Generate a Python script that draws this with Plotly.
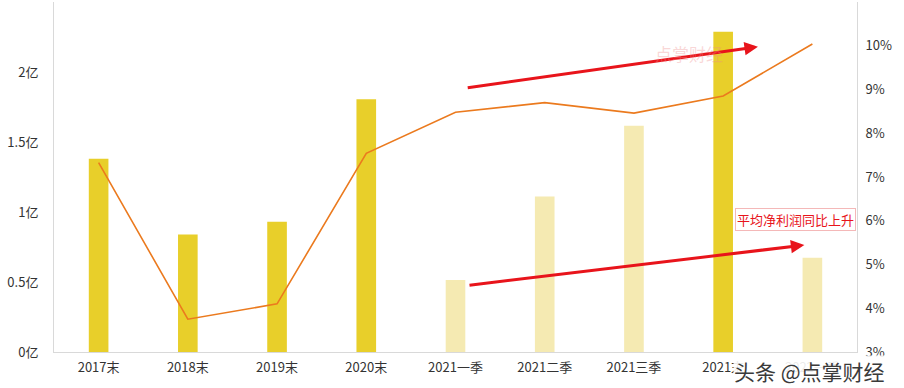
import plotly.graph_objects as go

categories = ["2017末", "2018末", "2019末", "2020末", "2021一季", "2021二季", "2021三季", "2021末", "2022一季"]
profit_yi = [1.38, 0.84, 0.93, 1.805, 0.514, 1.11, 1.616, 2.288, 0.674]
margin_pct = [7.33, 3.75, 4.10, 7.54, 8.48, 8.70, 8.46, 8.85, 10.04]
bar_is_full = [True, True, True, True, False, False, False, True, False]

left_ticks = [0, 0.5, 1, 1.5, 2]
left_ticktext = ["0亿", "0.5亿", "1亿", "1.5亿", "2亿"]
right_ticks = [3, 4, 5, 6, 7, 8, 9, 10]
right_ticktext = ["3%", "4%", "5%", "6%", "7%", "8%", "9%", "10%"]

DARK = "#E8CF2A"
LIGHT = "#F5EAB2"
colors = [DARK if f else LIGHT for f in bar_is_full]

FONT = "Noto Sans CJK SC"

fig = go.Figure()
fig.add_trace(go.Bar(x=categories, y=profit_yi, marker=dict(color=colors, line=dict(width=0)),
                     width=0.22, yaxis="y", showlegend=False))
fig.add_trace(go.Scatter(x=categories, y=margin_pct, mode="lines", yaxis="y2",
                         line=dict(color="#EB7A1E", width=1.6), showlegend=False))

# red arrows (category index / left axis units)
arrows = [((4.12, 1.886), (7.39, 2.18)), ((4.14, 0.476), (7.91, 0.764))]
for (tx, ty), (hx, hy) in arrows:
    fig.add_annotation(x=hx, y=hy, ax=tx, ay=ty, xref="x", yref="y", axref="x", ayref="y",
                       showarrow=True, arrowhead=2, arrowsize=0.9, arrowwidth=3,
                       arrowcolor="#E8141B", text="")

fig.add_annotation(text="平均净利润同比上升", xref="paper", yref="paper", x=0.924, y=0.379,
                   xanchor="center", yanchor="middle", showarrow=False,
                   font=dict(family=FONT, size=13, color="#E8141B"),
                   bordercolor="#F4B8B8", borderwidth=1, borderpad=1, bgcolor="white")

# watermarks
fig.add_annotation(text="点掌财经", xref="paper", yref="paper", x=0.835, y=0.895,
                   showarrow=False, font=dict(family=FONT, size=17, color="rgba(240,140,140,0.35)"))
fig.add_annotation(text="头条 @点掌财经", xref="paper", yref="paper", x=0.941, y=-0.055,
                   xanchor="center", yanchor="middle", showarrow=False,
                   bgcolor="rgba(255,255,255,0.9)", borderpad=0,
                   font=dict(family=FONT, size=21, color="#3a3a3a"))

fig.update_layout(
    width=904, height=388,
    margin=dict(l=54, r=47, t=2, b=36, autoexpand=False),
    plot_bgcolor="white", paper_bgcolor="white",
    font=dict(family=FONT, size=13, color="#333333"),
    bargap=0.78,
    xaxis=dict(type="category", showline=True, linecolor="#D9D9D9", linewidth=1,
               showgrid=False, ticks="", automargin=False, ticklabelstandoff=3,
               tickfont=dict(size=13, color="#333333")),
    yaxis=dict(range=[0, 2.5], tickvals=left_ticks, ticktext=left_ticktext, showgrid=False,
               showline=True, linecolor="#D9D9D9", zeroline=False, ticks="", automargin=False,
               ticklabelstandoff=12, tickfont=dict(size=13, color="#333333")),
    yaxis2=dict(range=[3, 11], tickvals=right_ticks, ticktext=right_ticktext, overlaying="y",
                side="right", showgrid=False, showline=True, linecolor="#D9D9D9",
                zeroline=False, ticks="", ticklabelstandoff=5, automargin=False,
                tickfont=dict(size=13, color="#333333")),
)

fig.write_html("out.html", config={"displayModeBar": False},
               post_script="document.body.style.margin='0';document.body.style.overflow='hidden';")
